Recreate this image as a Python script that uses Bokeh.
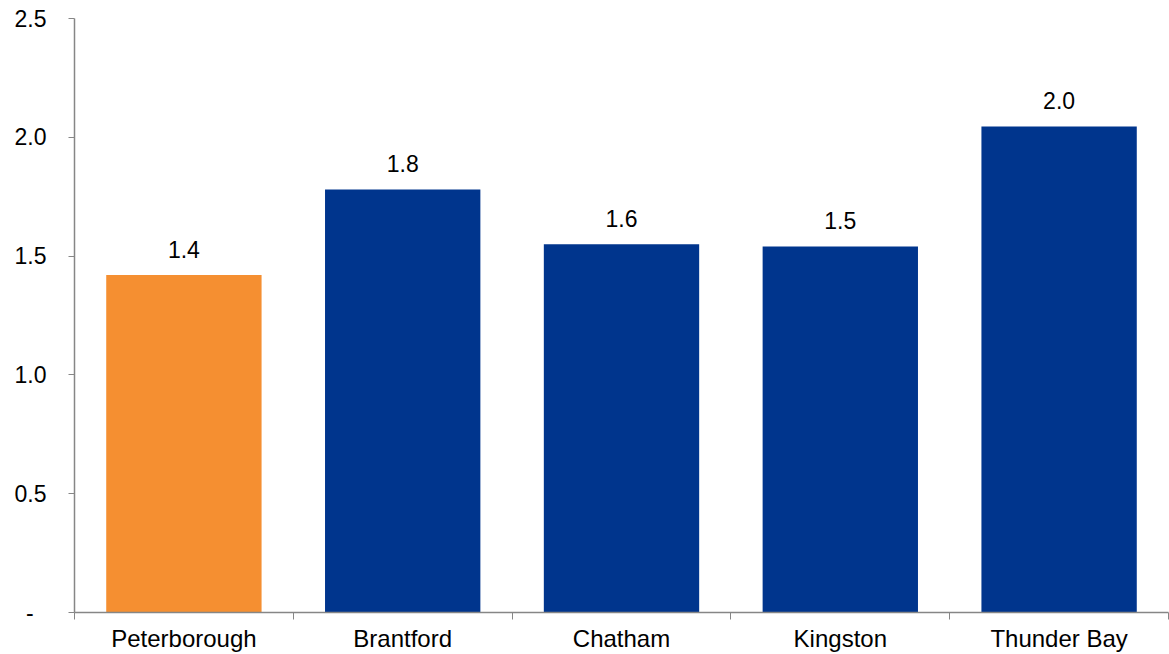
from bokeh.plotting import figure
from bokeh.models import ColumnDataSource, Range1d, FixedTicker, NumeralTickFormatter
from bokeh.core.properties import value
from bokeh.embed import file_html
from bokeh.resources import INLINE

cities = ["Peterborough", "Brantford", "Chatham", "Kingston", "Thunder Bay"]
values = [1.42, 1.78, 1.55, 1.54, 2.045]
bar_colors = ["#F58F31", "#00358D", "#00358D", "#00358D", "#00358D"]
y_ticks = [0, 0.5, 1.0, 1.5, 2.0, 2.5]

FONT = "Liberation Sans"

xpos = [i + 0.5 for i in range(len(cities))]
labels = ["%.1f" % round(v + 1e-9, 1) for v in values]
src = ColumnDataSource(dict(x=xpos, top=values, color=bar_colors, label=labels))

p = figure(width=1169, height=654, output_backend="svg", toolbar_location=None,
           x_range=Range1d(0, len(cities)), y_range=Range1d(0, 2.5),
           min_border_left=74, min_border_right=1, min_border_top=18, min_border_bottom=0)
p.outline_line_color = None
p.grid.grid_line_color = None
p.background_fill_color = "white"
p.border_fill_color = "white"

p.vbar(x="x", top="top", width=0.71, bottom=0, color="color", line_color=None, source=src)
p.text(x="x", y="top", text="label", source=src, text_align="center",
       text_baseline="alphabetic", y_offset=-26, text_font=value(FONT),
       text_font_size="23px", text_color="#000000")

axis_color = "#868686"
# x axis
xa = p.xaxis[0]
xa.ticker = FixedTicker(ticks=xpos, minor_ticks=list(range(len(cities) + 1)))
xa.major_label_overrides = {x: c for x, c in zip(xpos, cities)}
xa.major_tick_line_color = None
xa.minor_tick_line_color = axis_color
xa.minor_tick_out = 7
xa.minor_tick_in = 0
xa.axis_line_color = axis_color
xa.axis_line_width = 1.5
xa.major_label_text_font = FONT
xa.major_label_text_font_size = "24px"
xa.major_label_text_color = "#000000"
xa.major_label_standoff = 5

# y axis
ya = p.yaxis[0]
ya.ticker = FixedTicker(ticks=y_ticks)
ya.formatter = NumeralTickFormatter(format="0.0")
ya.major_label_overrides = {0: "-\u2007"}
ya.minor_tick_line_color = None
ya.major_tick_line_color = axis_color
ya.major_tick_out = 6
ya.major_tick_in = 0
ya.axis_line_color = axis_color
ya.axis_line_width = 1.5
ya.major_label_text_font = FONT
ya.major_label_text_font_size = "23px"
ya.major_label_text_color = "#000000"
ya.major_label_standoff = 22

open("out.html", "w").write(file_html(p, INLINE))
